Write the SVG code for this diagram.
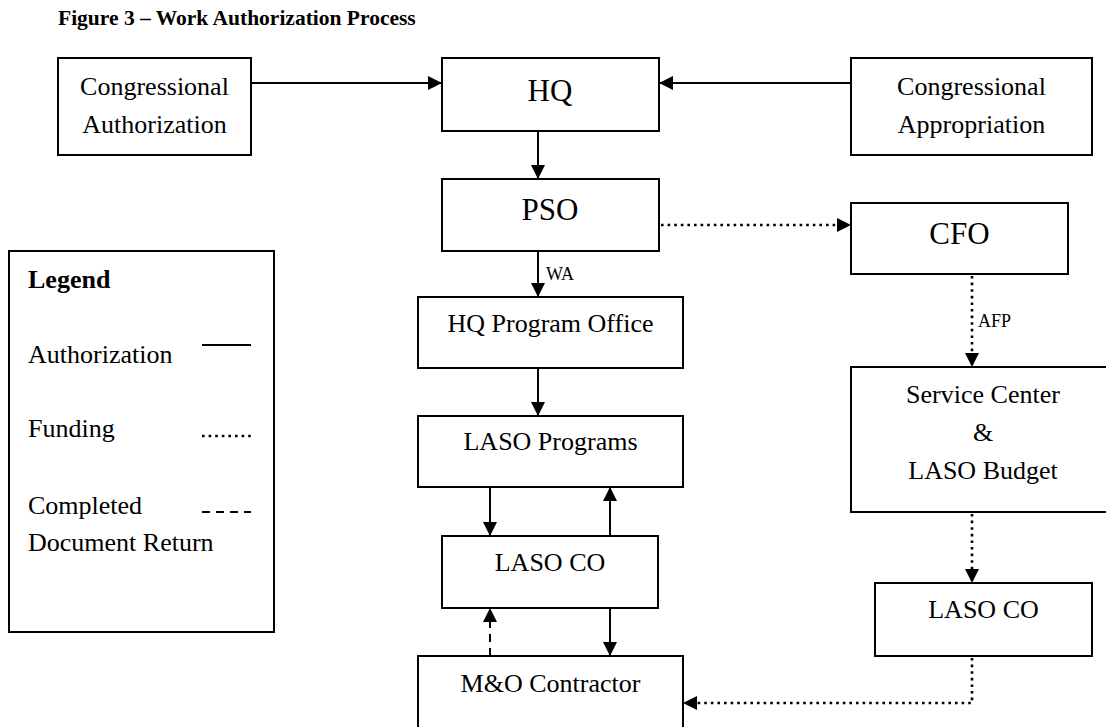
<svg xmlns="http://www.w3.org/2000/svg" width="1106" height="727" viewBox="0 0 1106 727">
<style>
  .box { fill: #fff; stroke: #000; stroke-width: 2; }
  .t { font-family: "Liberation Serif", "Times New Roman", serif; font-size: 26px; fill: #000; }
  .c { text-anchor: middle; }
  .big { font-size: 31px; }
  .lbl { font-family: "Liberation Serif", "Times New Roman", serif; font-size: 18px; fill: #000; }
  .solid { fill: none; stroke: #000; stroke-width: 2; }
  .dot { fill: none; stroke: #000; stroke-width: 2.6; stroke-dasharray: 2.6 4; }
  .dash { fill: none; stroke: #000; stroke-width: 2; stroke-dasharray: 8 6; }
</style>
<defs>
  <marker id="arr" viewBox="0 0 14 14" refX="14" refY="7" markerWidth="14" markerHeight="14" markerUnits="userSpaceOnUse" orient="auto">
    <path d="M0,0 L14,7 L0,14 Z" fill="#000"/>
  </marker>
</defs>
<rect width="1106" height="727" fill="#fff"/>
<text x="58" y="25" font-family="'Liberation Serif', 'Times New Roman', serif" font-size="21.5" font-weight="bold">Figure 3 – Work Authorization Process</text>

<g id="congressional-authorization">
  <rect class="box" x="58" y="58" width="193" height="97"/>
  <text class="t c" x="154.5" y="95">Congressional</text>
  <text class="t c" x="154.5" y="133">Authorization</text>
</g>
<g id="hq">
  <rect class="box" x="442" y="58" width="217" height="73"/>
  <text class="t c big" x="550" y="101">HQ</text>
</g>
<g id="congressional-appropriation">
  <rect class="box" x="851" y="58" width="241" height="97"/>
  <text class="t c" x="971.5" y="95">Congressional</text>
  <text class="t c" x="971.5" y="133">Appropriation</text>
</g>
<g id="pso">
  <rect class="box" x="442" y="179" width="217" height="72"/>
  <text class="t c big" x="550" y="220">PSO</text>
</g>
<g id="cfo">
  <rect class="box" x="851" y="203" width="217" height="71"/>
  <text class="t c big" x="959.5" y="244">CFO</text>
</g>
<g id="hq-program-office">
  <rect class="box" x="418" y="297" width="265" height="71"/>
  <text class="t c" x="550.5" y="332">HQ Program Office</text>
</g>
<g id="laso-programs">
  <rect class="box" x="418" y="416" width="265" height="71"/>
  <text class="t c" x="550.5" y="450">LASO Programs</text>
</g>
<g id="laso-co-left">
  <rect class="box" x="442" y="536" width="216" height="72"/>
  <text class="t c" x="550" y="571">LASO CO</text>
</g>
<g id="mo-contractor">
  <rect class="box" x="418" y="656" width="265" height="90"/>
  <text class="t c" x="550.5" y="692">M&amp;O Contractor</text>
</g>
<g id="service-center">
  <rect class="box" x="851" y="367" width="265" height="145"/>
  <text class="t c" x="983" y="403">Service Center</text>
  <text class="t c" x="983" y="441">&amp;</text>
  <text class="t c" x="983" y="479">LASO Budget</text>
</g>
<g id="laso-co-right">
  <rect class="box" x="875" y="583" width="217" height="73"/>
  <text class="t c" x="983.5" y="618">LASO CO</text>
</g>
<g id="legend">
  <rect class="box" x="9" y="251" width="265" height="381"/>
  <text class="t" x="28" y="288" font-weight="bold">Legend</text>
  <text class="t" x="28" y="363">Authorization</text>
  <line class="solid" x1="202" y1="345" x2="251" y2="345"/>
  <text class="t" x="28" y="437">Funding</text>
  <line class="dot" x1="202" y1="436" x2="251" y2="436" stroke-width="2" stroke-dasharray="2 4.5"/>
  <text class="t" x="28" y="514">Completed</text>
  <text class="t" x="28" y="551">Document Return</text>
  <line class="dash" x1="202" y1="512" x2="251" y2="512" stroke-dasharray="8 5.7"/>
</g>

<g id="connectors">
  <line class="solid" x1="251" y1="83" x2="442" y2="83" marker-end="url(#arr)"/>
  <line class="solid" x1="851" y1="83" x2="659" y2="83" marker-end="url(#arr)"/>
  <line class="solid" x1="538" y1="131" x2="538" y2="179" marker-end="url(#arr)"/>
  <line class="dot" x1="661" y1="225" x2="840" y2="225"/>
  <path d="M837,218 L851,225 L837,232 Z" fill="#000"/>
  <line class="solid" x1="538" y1="251" x2="538" y2="297" marker-end="url(#arr)"/>
  <text class="lbl" x="546" y="280">WA</text>
  <line class="dot" x1="972" y1="276" x2="972" y2="356"/>
  <path d="M965,353 L972,367 L979,353 Z" fill="#000"/>
  <text class="lbl" x="978" y="327">AFP</text>
  <line class="solid" x1="538" y1="368" x2="538" y2="416" marker-end="url(#arr)"/>
  <line class="solid" x1="490" y1="487" x2="490" y2="536" marker-end="url(#arr)"/>
  <line class="solid" x1="610" y1="536" x2="610" y2="487" marker-end="url(#arr)"/>
  <line class="solid" x1="610" y1="608" x2="610" y2="656" marker-end="url(#arr)"/>
  <line class="dash" x1="490" y1="656" x2="490" y2="620"/>
  <path d="M483,622 L490,608 L497,622 Z" fill="#000"/>
  <line class="dot" x1="972" y1="514" x2="972" y2="572"/>
  <path d="M965,569 L972,583 L979,569 Z" fill="#000"/>
  <polyline class="dot" points="972,658 972,703 694,703"/>
  <path d="M697,696 L683,703 L697,710 Z" fill="#000"/>
</g>
</svg>
